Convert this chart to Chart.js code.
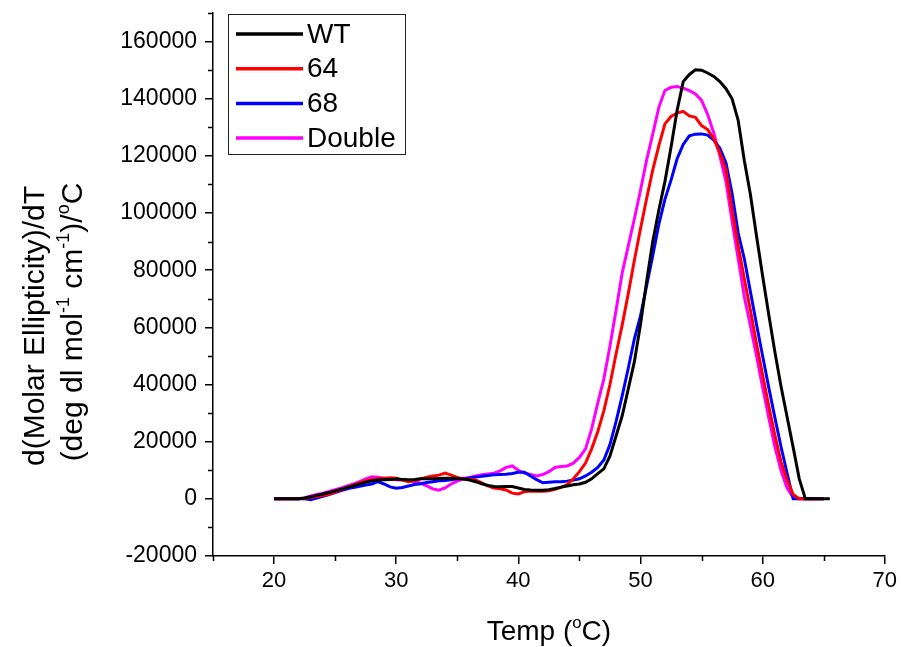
<!DOCTYPE html>
<html>
<head>
<meta charset="utf-8">
<script src="https://cdn.jsdelivr.net/npm/chart.js@4.4.1/dist/chart.umd.min.js"></script>
<style>
  html, body { margin: 0; padding: 0; background: #fff; overflow: hidden; }
  #wrap { width: 901px; height: 647px; position: relative; }
</style>
</head>
<body>
<div id="wrap"><canvas id="c" width="901" height="647"></canvas></div>
<script>
// Temperature grid (°C)
const temps = [20,20.5,21,21.5,22,22.5,23,23.5,24,24.5,25,25.5,26,26.5,27,27.5,
  28,28.5,29,29.5,30,30.5,31,31.5,32,32.5,33,33.5,34,34.5,35,35.5,36,36.5,37,37.5,
  38,38.5,39,39.5,40,40.5,41,41.5,42,42.5,43,43.5,44,44.5,45,45.5,46,46.5,47,47.5,
  48,48.5,49,49.5,50,50.5,51,51.5,52,52.5,53,53.5,54,54.5,55,55.5,56,56.5,57,57.5,
  58,58.5,59,59.5,60,60.5,61,61.5,62,62.5,63,63.5,64,64.5,65,65.5];

// d(Molar Ellipticity)/dT for each construct
const wt = [0,0,0,0,0,300,700,1200,1700,2200,2800,3400,4000,4600,5200,5800,
  6300,6600,6700,6800,6900,6800,6700,6800,7000,7000,
  7000,7100,7200,7200,7100,6900,6600,6000,5300,4700,
  4300,4200,4300,4300,3800,3300,3100,3000,3000,3200,
  3600,4100,4500,4900,5200,5800,7000,8800,10500,15000,
  22000,29000,38500,48000,61000,76000,90000,101000,111000,123000,
  136000,146000,148500,150100,150000,149000,147800,146000,143500,140000,
  132400,118400,106500,92000,78000,64500,51500,39500,28700,18000,
  7000,0,0,0,0,0];

const mut64 = [0,0,0,0,0,200,500,800,1200,1600,2400,3200,4000,4800,5600,6300,
  6800,7000,7200,7400,7200,6600,6000,6300,7000,7600,
  8000,8300,9000,8300,7500,7000,6800,6600,5600,4500,
  3800,3500,3100,2000,1700,2500,2700,2700,2700,2800,
  3300,4000,5000,7000,9500,12500,17500,23500,30800,40000,
  50700,60800,71800,83500,94500,105000,115000,123500,131200,133800,
  135000,135600,134000,133500,130600,129200,126000,121000,115000,101000,
  88500,77000,66000,54300,43300,32500,22300,13000,6600,1500,
  0,0,0,0,0];

const mut68 = [0,0,0,0,0,0,-300,300,900,1500,2200,2900,3500,4000,4400,4800,
  5200,6000,5200,4200,3700,4000,4500,5000,5300,5700,
  6000,6300,6400,6700,7000,7200,7300,7600,7900,8200,
  8400,8500,8600,8900,9300,9300,8000,6700,5600,5800,
  6000,6000,6200,6600,7000,8000,9300,11000,13600,19000,
  27000,36000,45700,56000,64000,74500,85000,96000,104800,111500,
  119000,124000,127000,127600,127700,127300,125500,122700,117500,106800,
  93000,84000,72500,61000,50000,39000,28500,18300,9000,0,
  0,0,0,0,0];

const double = [0,0,0,0,0,300,1000,1500,2000,2600,3200,3800,4500,5200,6000,7000,
  7700,7600,7200,6900,6700,6600,6400,6000,5500,4500,
  3500,3000,3800,5200,6200,7000,7500,8000,8400,8700,
  9000,9800,11000,11500,10000,9000,8500,8000,8500,9500,
  11000,11300,11500,12500,14500,17500,24500,33500,42000,53500,
  66000,79000,88500,98000,108000,118500,127500,137000,142900,144000,
  144300,143700,142800,141700,139400,134500,128000,120000,111000,97000,
  84000,70700,60500,50000,39000,28500,18300,10000,3800,500,
  0,0,0,0,0];

const seriesNames = ['WT', '64', '68', 'Double'];
const seriesColors = ['#000000', '#ff0000', '#0000ff', '#ff00ff'];
const seriesValues = [wt, mut64, mut68, double];

const xLabelTicks = [20, 30, 40, 50, 60, 70];
const yLabelTicks = [-20000, 0, 20000, 40000, 60000, 80000, 100000, 120000, 140000, 160000];

const FONT = '"Liberation Sans", Arial, sans-serif';

function toPoints(vals) {
  return vals.map((v, i) => ({ x: temps[i], y: v }));
}

// Mixed-size text run (used for superscripts such as cm⁻¹ and °C)
function drawRich(ctx, parts, cx, baseY, size) {
  let w = 0;
  for (const p of parts) {
    ctx.font = (p.sup ? size * 0.6 : size) + 'px ' + FONT;
    w += ctx.measureText(p.t).width;
  }
  let x = cx - w / 2;
  ctx.textAlign = 'left';
  ctx.textBaseline = 'alphabetic';
  for (const p of parts) {
    ctx.font = (p.sup ? size * 0.6 : size) + 'px ' + FONT;
    ctx.fillText(p.t, x, p.sup ? baseY - size * 0.42 : baseY);
    x += ctx.measureText(p.t).width;
  }
}

const decorations = {
  id: 'decorations',
  afterDraw(chart) {
    const { ctx, scales: { x, y }, chartArea: a } = chart;
    ctx.save();
    ctx.fillStyle = '#000';
    ctx.strokeStyle = '#000';

    // minor ticks (half steps between labelled ticks)
    ctx.lineWidth = 1.5;
    ctx.beginPath();
    for (const t of x.ticks) {
      if (xLabelTicks.includes(t.value)) continue;
      const px = Math.round(x.getPixelForValue(t.value)) + 0.5;
      ctx.moveTo(px, a.bottom);
      ctx.lineTo(px, a.bottom + 5);
    }
    for (const t of y.ticks) {
      if (yLabelTicks.includes(t.value)) continue;
      const py = Math.round(y.getPixelForValue(t.value)) + 0.5;
      ctx.moveTo(a.left, py);
      ctx.lineTo(a.left - 5, py);
    }
    ctx.stroke();

    // axis titles
    drawRich(ctx, [{ t: 'Temp (' }, { t: 'o', sup: true }, { t: 'C)' }], (a.left + a.right) / 2, 640, 28);

    ctx.save();
    ctx.rotate(-Math.PI / 2);
    // rotated frame: x' = -pageY, y' = pageX
    drawRich(ctx, [{ t: 'd(Molar Ellipticity)/dT' }], -326, 44, 30);
    drawRich(ctx, [{ t: '(deg dl mol' }, { t: '-1', sup: true }, { t: ' cm' }, { t: '-1', sup: true },
      { t: ')/' }, { t: 'o', sup: true }, { t: 'C' }], -322, 82, 30);
    ctx.restore();

    // legend box
    const lx = 228, ly = 14, lw = 177, lh = 140;
    ctx.fillStyle = '#fff';
    ctx.fillRect(lx, ly, lw, lh);
    ctx.lineWidth = 1;
    ctx.strokeStyle = '#222';
    ctx.strokeRect(lx + 0.5, ly + 0.5, lw, lh);
    chart.data.datasets.forEach((ds, i) => {
      const rowY = 34 + i * 34.7;
      ctx.strokeStyle = ds.borderColor;
      ctx.lineWidth = 3.5;
      ctx.beginPath();
      ctx.moveTo(236, rowY);
      ctx.lineTo(303, rowY);
      ctx.stroke();
      ctx.fillStyle = '#000';
      ctx.font = '28px ' + FONT;
      ctx.textAlign = 'left';
      ctx.textBaseline = 'middle';
      ctx.fillText(ds.label, 307, rowY + 1);
    });
    ctx.restore();
  }
};

new Chart(document.getElementById('c'), {
  type: 'line',
  data: {
    datasets: seriesNames.map((name, i) => ({
      label: name,
      data: toPoints(seriesValues[i]),
      borderColor: seriesColors[i],
      backgroundColor: seriesColors[i],
      borderWidth: 3,
      pointRadius: 0,
      tension: 0,
      fill: false
    }))
  },
  options: {
    responsive: false,
    animation: false,
    devicePixelRatio: 1,
    layout: { padding: { left: 0, right: 14, top: 13, bottom: 0 } },
    plugins: { legend: { display: false }, tooltip: { enabled: false } },
    scales: {
      x: {
        type: 'linear',
        min: 15, max: 70,
        afterFit: s => { s.height = 91; },
        border: { display: true, color: '#000', width: 1.5 },
        grid: {
          drawOnChartArea: false, drawTicks: true, tickLength: 8, lineWidth: 1.5,
          tickColor: c => xLabelTicks.includes(c.tick.value) ? '#000' : 'rgba(0,0,0,0)'
        },
        ticks: {
          stepSize: 5, autoSkip: false, maxRotation: 0, padding: 4, color: '#000',
          font: { family: FONT, size: 22 },
          callback: v => xLabelTicks.includes(v) ? String(v) : ''
        }
      },
      y: {
        type: 'linear',
        min: -20000, max: 170000,
        afterFit: s => { s.width = 213; s.paddingTop = 0; s.paddingBottom = 0; },
        border: { display: true, color: '#000', width: 1.5 },
        grid: {
          drawOnChartArea: false, drawTicks: true, tickLength: 8, lineWidth: 1.5,
          tickColor: c => yLabelTicks.includes(c.tick.value) ? '#000' : 'rgba(0,0,0,0)'
        },
        ticks: {
          stepSize: 10000, autoSkip: false, padding: 8, color: '#000',
          font: { family: FONT, size: 23 },
          callback: v => yLabelTicks.includes(v) ? String(v) : ''
        }
      }
    }
  },
  plugins: [decorations]
});
</script>
</body>
</html>
